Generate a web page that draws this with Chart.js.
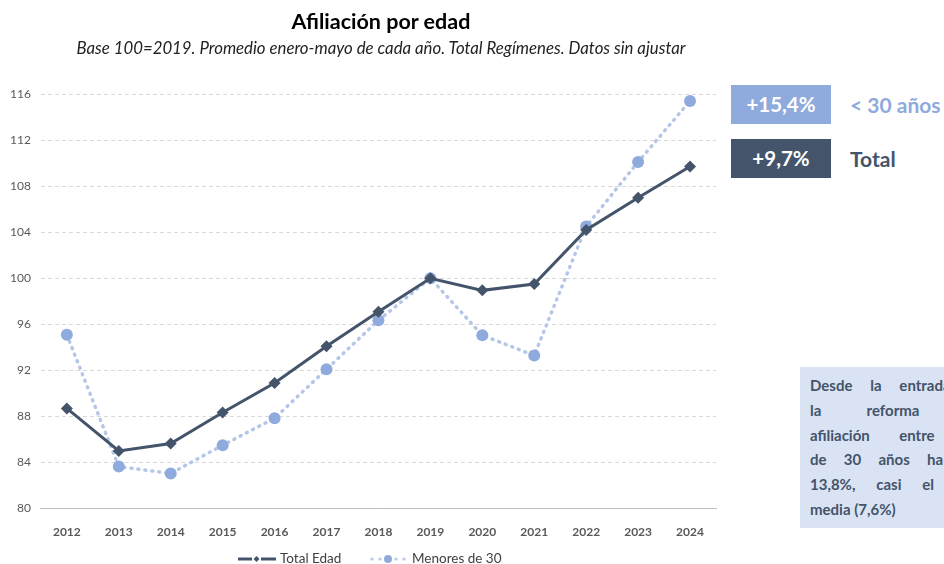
<!DOCTYPE html>
<html><head><meta charset="utf-8">
<script src="https://cdn.jsdelivr.net/npm/chart.js@4"></script>
<style>
html,body{margin:0;padding:0;background:#fff;width:944px;height:564px;overflow:hidden;position:relative;font-family:Lato,"Noto Sans",sans-serif;}
#wrap{position:absolute;left:0;top:0;width:730px;height:564px;}
.t{position:absolute;white-space:nowrap;}
#title{left:0;width:762px;top:8px;text-align:center;font-weight:bold;font-size:21.5px;color:#000;}
#sub{left:0;width:762px;top:37px;text-align:center;font-style:italic;font-size:16.8px;color:#222;}
.box{position:absolute;left:731px;width:100px;height:39px;color:#fff;font-weight:bold;font-size:20.5px;text-align:center;line-height:39px;}
.lab{position:absolute;left:850px;font-weight:bold;font-size:21px;line-height:39px;}
#note{position:absolute;left:800px;top:367px;width:280px;height:161px;background:#dae3f3;box-sizing:border-box;padding:6px 10px 0 10px;color:#44546a;font-weight:bold;font-size:15px;line-height:24.8px;}
#note div{text-align:justify;text-align-last:justify;white-space:nowrap;}
#note div.last{text-align-last:left;}
</style></head>
<body>
<div id="wrap"><canvas id="c" width="730" height="564"></canvas></div>
<div class="t" id="title">Afiliación por edad</div>
<div class="t" id="sub">Base 100=2019. Promedio enero-mayo de cada año. Total Regímenes. Datos sin ajustar</div>
<div class="box" style="top:85px;background:#8faadc;">+15,4%</div>
<div class="lab" style="top:85px;color:#8faadc;">&lt; 30 años</div>
<div class="box" style="top:139px;background:#44546a;">+9,7%</div>
<div class="lab" style="top:139px;color:#44546a;">Total</div>
<div id="note">
<div>Desde la entrada en vigor de</div>
<div>la&nbsp;&nbsp;&nbsp;&nbsp;reforma&nbsp;&nbsp;&nbsp;&nbsp;laboral,&nbsp;&nbsp;&nbsp;&nbsp;la</div>
<div>afiliación entre los menores</div>
<div>de 30 años ha aumentado un</div>
<div>13,8%, casi el doble que la</div>
<div class="last">media (7,6%)</div>
</div>
<script>
const years = ["2012","2013","2014","2015","2016","2017","2018","2019","2020","2021","2022","2023","2024"];
const totalEdad = [88.7, 85.0, 85.65, 88.35, 90.9, 94.1, 97.1, 100.0, 98.95, 99.5, 104.2, 107.0, 109.7];
const menores30 = [95.1, 83.65, 83.05, 85.5, 87.85, 92.1, 96.35, 100.0, 95.05, 93.3, 104.5, 110.1, 115.4];
const yTicks = [80, 84, 88, 92, 96, 100, 104, 108, 112, 116];
const seriesNames = ["Total Edad", "Menores de 30"];

const legendPlugin = {
  id: 'customLegend',
  afterDraw(chart) {
    const ctx = chart.ctx;
    const y = 559;
    ctx.save();
    ctx.strokeStyle = '#44546a'; ctx.lineWidth = 3; ctx.lineCap = 'butt';
    ctx.beginPath(); ctx.moveTo(238, y); ctx.lineTo(252, y); ctx.stroke();
    ctx.beginPath(); ctx.moveTo(261, y); ctx.lineTo(276, y); ctx.stroke();
    ctx.fillStyle = '#44546a';
    ctx.beginPath(); ctx.moveTo(256.5, y-3); ctx.lineTo(259.5, y); ctx.lineTo(256.5, y+3); ctx.lineTo(253.5, y); ctx.closePath(); ctx.fill();
    ctx.font = '13.5px Lato, "Noto Sans", sans-serif';
    ctx.fillStyle = '#404040'; ctx.textBaseline = 'middle';
    ctx.fillText(seriesNames[0], 280, y);
    ctx.fillStyle = '#b4c7e7';
    [372, 380, 396, 404].forEach(x => { ctx.beginPath(); ctx.arc(x, y, 1.6, 0, Math.PI*2); ctx.fill(); });
    ctx.fillStyle = '#8faadc';
    ctx.beginPath(); ctx.arc(388, y, 4, 0, Math.PI*2); ctx.fill();
    ctx.fillStyle = '#404040';
    ctx.fillText(seriesNames[1], 412, y);
    ctx.restore();
  }
};

new Chart(document.getElementById('c'), {
  type: 'line',
  data: {
    labels: years,
    datasets: [
      {
        label: seriesNames[1], data: menores30,
        borderColor: '#b4c7e7', borderWidth: 3.5, borderDash: [1, 6], borderCapStyle: 'round',
        pointStyle: 'circle', pointRadius: 6, pointBackgroundColor: '#8faadc', pointBorderColor: '#8faadc', pointBorderWidth: 0,
        tension: 0, order: 2
      },
      {
        label: seriesNames[0], data: totalEdad,
        borderColor: '#44546a', borderWidth: 3,
        pointStyle: 'rectRot', pointRadius: 6, pointBackgroundColor: '#44546a', pointBorderColor: '#44546a', pointBorderWidth: 0,
        tension: 0, order: 1
      }
    ]
  },
  options: {
    responsive: false, animation: false,
    layout: { padding: { top: 94, left: 0, right: 14, bottom: 17 } },
    plugins: { legend: { display: false }, tooltip: { enabled: false }, title: { display: false } },
    scales: {
      x: {
        offset: true,
        grid: { display: false },
        border: { display: true, color: '#bfbfbf', width: 1 },
        ticks: { color: '#595959', font: { family: 'Lato, "Noto Sans", sans-serif', size: 12, weight: 'bold' }, padding: 8 }
      },
      y: {
        min: 80, max: 116,
        afterBuildTicks(axis) { axis.ticks = yTicks.map(v => ({ value: v })); },
        grid: { color: '#d9d9d9', lineWidth: 1, drawTicks: false },
        border: { display: false, dash: [4, 3] },
        ticks: { color: '#595959', font: { family: 'Lato, "Noto Sans", sans-serif', size: 12 }, padding: 10 }
      }
    }
  },
  plugins: [legendPlugin]
});
</script>
</body></html>
